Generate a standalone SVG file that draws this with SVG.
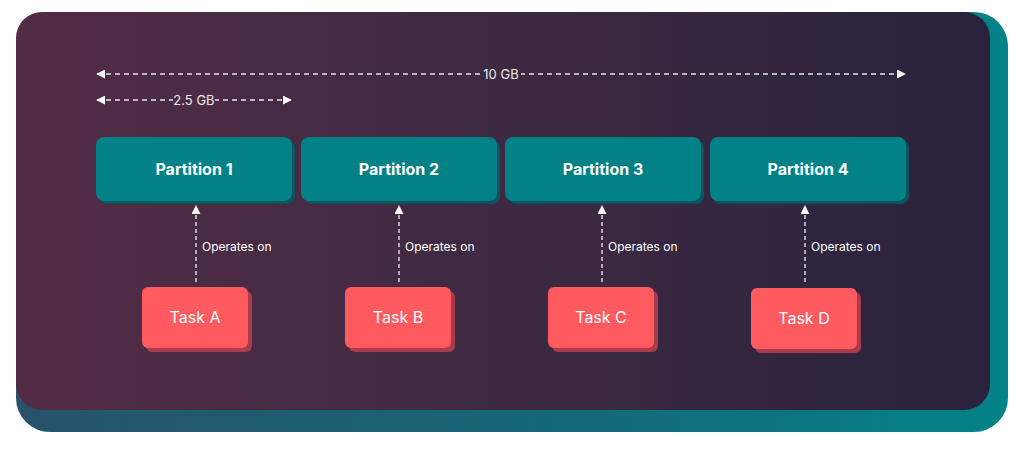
<svg xmlns="http://www.w3.org/2000/svg" width="1024" height="450" viewBox="0 0 1024 450">
<defs>
<linearGradient id="bg" x1="0" y1="0" x2="1" y2="0">
<stop offset="0" stop-color="#522c45"/>
<stop offset="0.5" stop-color="#3d2a42"/>
<stop offset="1" stop-color="#2a223c"/>
</linearGradient>
<linearGradient id="back" x1="0" y1="0" x2="1" y2="0">
<stop offset="0" stop-color="#27526a"/>
<stop offset="0.6" stop-color="#136a7a"/>
<stop offset="1" stop-color="#028387"/>
</linearGradient>
<marker id="ah" viewBox="0 0 10 10" refX="9" refY="5" markerWidth="9" markerHeight="9" markerUnits="userSpaceOnUse" orient="auto-start-reverse">
<path d="M0,0 L10,5 L0,10 Z" fill="#ffffff"/>
</marker>
<style>
.dim{stroke:#e8e4ee;stroke-width:1.3;stroke-dasharray:5 4;fill:none}
.dimt{font-family:"Inter","Liberation Sans",sans-serif;font-size:13px;fill:#ece8f0}
.part{fill:#028287}
.partsh{fill:#0b5461}
.pt{font-family:"Inter","Liberation Sans",sans-serif;font-weight:700;font-size:16px;fill:#ffffff;font-variant-ligatures:none}
.task{fill:#ff5a60}
.tasksh{fill:#a83b4c}
.tt{font-family:"Inter","Liberation Sans",sans-serif;font-size:16px;fill:#ffffff}
.con{stroke:#ffffff;stroke-width:1.2;stroke-dasharray:4 3;fill:none}
.ct{font-family:"Inter","Liberation Sans",sans-serif;font-size:12px;fill:#ffffff}
</style>
</defs>
<rect x="0" y="0" width="1024" height="450" fill="#ffffff"/>
<rect x="16" y="12" width="992" height="420" rx="34" fill="url(#back)"/>
<rect x="16" y="12" width="974" height="398" rx="26" fill="url(#bg)"/>
<g id="dimensions">
<line class="dim" x1="97" y1="74" x2="905" y2="74" marker-start="url(#ah)" marker-end="url(#ah)"/>
<rect x="481" y="66" width="40" height="16" fill="#3d2a42"/>
<text class="dimt" x="501" y="78.5" text-anchor="middle">10 GB</text>
<line class="dim" x1="97" y1="100" x2="291" y2="100" marker-start="url(#ah)" marker-end="url(#ah)"/>
<rect x="173" y="92" width="42" height="16" fill="#4d2c44"/>
<text class="dimt" x="194" y="104.5" text-anchor="middle">2.5 GB</text>
</g>
<g id="partition1"><rect class="partsh" x="99" y="140" width="196" height="64" rx="8"/><rect class="part" x="96" y="137" width="196" height="64" rx="8"/><text class="pt" x="194" y="175" text-anchor="middle">Partition 1</text></g>
<g id="partition2"><rect class="partsh" x="304" y="140" width="196" height="64" rx="8"/><rect class="part" x="301" y="137" width="196" height="64" rx="8"/><text class="pt" x="399" y="175" text-anchor="middle">Partition 2</text></g>
<g id="partition3"><rect class="partsh" x="508" y="140" width="196" height="64" rx="8"/><rect class="part" x="505" y="137" width="196" height="64" rx="8"/><text class="pt" x="603" y="175" text-anchor="middle">Partition 3</text></g>
<g id="partition4"><rect class="partsh" x="713" y="140" width="196" height="64" rx="8"/><rect class="part" x="710" y="137" width="196" height="64" rx="8"/><text class="pt" x="808" y="175" text-anchor="middle">Partition 4</text></g>
<g id="taskA"><rect class="tasksh" x="146" y="291" width="106" height="61" rx="6"/><rect class="task" x="142" y="287" width="106" height="61" rx="6"/><text class="tt" x="195" y="323" text-anchor="middle">Task A</text></g>
<g id="taskB"><rect class="tasksh" x="349" y="291" width="106" height="61" rx="6"/><rect class="task" x="345" y="287" width="106" height="61" rx="6"/><text class="tt" x="398" y="323" text-anchor="middle">Task B</text></g>
<g id="taskC"><rect class="tasksh" x="552" y="291" width="106" height="61" rx="6"/><rect class="task" x="548" y="287" width="106" height="61" rx="6"/><text class="tt" x="601" y="323" text-anchor="middle">Task C</text></g>
<g id="taskD"><rect class="tasksh" x="755" y="292" width="106" height="61" rx="6"/><rect class="task" x="751" y="288" width="106" height="61" rx="6"/><text class="tt" x="804" y="324" text-anchor="middle">Task D</text></g>
<g id="connectors">
<line class="con" x1="196" y1="282" x2="196" y2="206" marker-end="url(#ah)"/>
<line class="con" x1="399" y1="282" x2="399" y2="206" marker-end="url(#ah)"/>
<line class="con" x1="602" y1="282" x2="602" y2="206" marker-end="url(#ah)"/>
<line class="con" x1="805" y1="282" x2="805" y2="206" marker-end="url(#ah)"/>
<text class="ct" x="202" y="251">Operates on</text>
<text class="ct" x="405" y="251">Operates on</text>
<text class="ct" x="608" y="251">Operates on</text>
<text class="ct" x="811" y="251">Operates on</text>
</g>
</svg>
